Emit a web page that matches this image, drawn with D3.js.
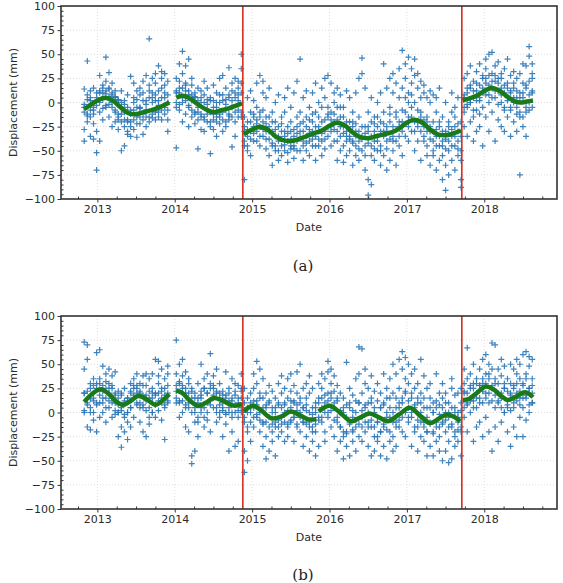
<!DOCTYPE html>
<html>
<head>
<meta charset="utf-8">
<script src="https://cdn.jsdelivr.net/npm/d3@7"></script>
<style>
body { margin: 0; background: #fff; }
text { font-family: "DejaVu Sans", sans-serif; }
</style>
</head>
<body>
<div id="chart"></div>
<script>
var width = 563;
var height = 583;

// acquisition dates (decimal years)
const dates = [
  2012.83,2012.87,2012.91,2012.95,2012.99,2013.03,2013.07,2013.11,2013.15,2013.19,2013.23,2013.27,2013.31,2013.35,
  2013.39,2013.43,2013.47,2013.51,2013.55,2013.59,2013.63,2013.67,2013.71,2013.75,2013.79,2013.83,2013.87,2013.91,
  2014.02,2014.06,2014.10,2014.14,2014.18,2014.22,2014.26,2014.30,2014.34,2014.38,2014.42,2014.46,2014.50,2014.54,
  2014.58,2014.62,2014.66,2014.70,2014.74,2014.78,2014.82,2014.86,
  2014.90,2014.94,2014.98,2015.02,2015.06,2015.10,2015.14,2015.18,2015.22,2015.26,2015.30,2015.34,2015.38,2015.42,
  2015.46,2015.50,2015.54,2015.58,2015.62,2015.66,2015.70,2015.74,2015.78,2015.82,2015.86,2015.90,2015.94,2015.98,
  2016.02,2016.06,2016.10,2016.14,2016.18,2016.22,2016.26,2016.30,2016.34,2016.38,2016.42,2016.46,2016.50,2016.54,
  2016.58,2016.62,2016.66,2016.70,2016.74,2016.78,2016.82,2016.86,2016.90,2016.94,2016.98,2017.02,2017.06,2017.10,
  2017.14,2017.18,2017.22,2017.26,2017.30,2017.34,2017.38,2017.42,2017.46,2017.50,2017.54,2017.58,2017.62,2017.66,
  2017.70,
  2017.74,2017.78,2017.82,2017.86,2017.90,2017.94,2017.98,2018.02,2018.06,2018.10,2018.14,2018.18,2018.22,2018.26,
  2018.30,2018.34,2018.38,2018.42,2018.46,2018.50,2018.54,2018.58,2018.62
];

// displacement observations (mm), one row per date, panel (a)
const obsA = [
  [-5,14,-28,-40],[43,-12,8,-20],[-35,-15,2,12],[-38,-22,-8,15],[-52,-70,-30,5],[-40,-10,10,28],[-18,3,18,10],
  [47,12,-5,22],[31,-15,6,15],[-25,0,10,20],[-8,5,-20,12],[-28,-12,3,-18],[-50,-20,-5,12],[-45,-25,-10,2],
  [-30,-18,8,-33],[-20,27,-12,-35],[-28,5,-8,20],[-36,-15,3,12],[-22,-5,15,8],[-33,10,-12,22],[-25,-8,28,2],
  [66,-15,12,18],[-16,5,25,0],[-10,20,8,30],[-15,38,12,-3],[-18,25,5,32],[-5,18,30,10],[-30,0,22,-18],
  [-47,25,10,-5],[40,15,-8,22],[53,30,5,-20],[38,12,-12,20],[45,-3,8,-25],[18,-15,2,25],[-10,10,-22,5],
  [-48,-5,15,-18],[-28,0,12,-12],[-15,8,-30,22],[-20,3,-8,15],[-53,-25,5,-10],[-12,2,18,-28],[-20,-5,10,-35],
  [25,-15,0,-22],[-30,8,-10,28],[-8,15,-25,3],[36,-18,5,-12],[-46,-5,12,20],[-20,10,-35,25],[22,-8,15,2],
  [50,35,-15,10],
  [-80,-45,-30,-15],[-50,-20,-35,5],[-55,-10,-30,12],[-40,-25,2,-15],[-18,20,-30,-5],[-45,28,-10,-25],
  [10,-35,-20,22],[-15,-48,5,-30],[-38,-25,15,-55],[-65,-30,-10,-45],[-20,-50,0,-35],[-60,-40,-25,8],
  [-55,-30,-15,-45],[-35,-50,-10,5],[-62,-40,-25,15],[-30,-48,-5,-20],[-45,10,-35,-58],[-25,-40,22,-15],
  [45,-30,-50,-10],[-40,-20,5,-60],[-35,-15,-50,12],[-55,-28,-5,-40],[-45,-20,10,-30],[-60,-35,-10,20],
  [-25,-45,0,-15],[-40,15,-20,-55],[-30,5,-48,25],[-15,-35,28,-5],[-45,-10,20,-25],[-20,10,-40,0],
  [-60,-30,15,-5],[-35,-15,8,-50],[-45,-25,-5,-62],[-55,-30,12,-40],[-20,-50,-35,5],[-65,-40,-25,-10],
  [-30,-55,10,-45],[-15,-40,25,-60],[46,30,-35,-50],[-25,15,-45,-70],[-80,-96,-30,-10],[-85,-55,-20,5],
  [-40,-60,-15,-30],[-50,-25,0,-35],[-45,-65,-20,10],[-30,40,-55,-10],[-70,-40,15,-25],[-60,-20,25,-5],
  [-35,10,-50,30],[-65,-15,20,-40],[-45,35,5,-25],[54,-20,15,-55],[-10,25,-35,40],[47,-40,10,-15],
  [-30,20,35,-5],[-50,0,28,45],[-20,15,-40,30],[-60,-10,22,5],[-35,10,-25,18],[-45,-15,5,-55],
  [-30,-65,0,12],[-50,-20,-40,8],[-70,-35,-10,5],[-60,-45,-25,15],[-80,-40,-15,-55],[-91,-65,-30,0],
  [-50,-75,-20,-40],[-60,-35,-10,10],[-45,-70,-25,-5],[-55,-30,5,-40],[-80,-88,-20,-50],
  [25,-10,5,-25],[-35,10,30,-5],[15,-20,38,0],[-40,5,22,-15],[-8,32,12,-30],[-25,18,40,2],[-45,-5,25,10],
  [20,35,-15,45],[-30,50,8,28],[52,15,-10,30],[-40,38,5,22],[42,-18,12,25],[-25,30,0,15],[10,-30,35,-8],
  [-15,20,45,5],[-35,-5,28,12],[15,-20,32,0],[-30,5,25,-12],[-75,-15,10,30],[20,-25,40,5],[-10,38,15,-35],
  [58,48,0,22],[40,10,-5,25]
];
// further observations on the same dates, panel (a)
const obsA2 = [
  [-10,-2],[-14,3],[-8,5],[-5,-12],[-3,10],[0,12],[-6,15],[9,-3],[-2,14],[8,-5],[-10,6],[-15,2],[-12,0],[-18,-2],
  [-20,-5],[-8,-25],[-18,0],[-22,-5],[-6,-15],[-18,2],[-15,-2],[-20,5],[-12,10],[-18,2],[2,-10],[-8,15],[-12,5],[8,-8],
  [0,12],[10,-2],[15,0],[2,18],[-5,12],[8,-8],[-12,6],[2,-10],[-15,5],[0,-18],[-12,-2],[-20,2],[-5,-18],[0,-15],
  [-12,8],[-18,2],[-2,-20],[-14,8],[2,-15],[-10,5],[-15,8],[20,-10],
  [-40,-25],[-28,-45],[-20,-38],[-32,-12],[-22,-40],[-15,-35],[-28,-8],[-38,-22],[-30,-15],[-42,-20],[-28,-45],
  [-35,-50],[-38,-22],[-44,-30],[-32,-52],[-38,-45],[-28,-48],[-50,-32],[-36,-22],[-30,-45],[-42,-25],[-32,-18],
  [-38,-12],[-25,-45],[-30,-38],[-32,-5],[-18,-38],[-26,-12],[-30,-18],[-12,-28],[-18,-40],[-25,-5],[-32,-15],
  [-20,-35],[-38,-28],[-42,-20],[-35,-22],[-30,-48],[-38,-25],[-32,-55],[-42,-25],[-35,-45],[-48,-22],[-40,-15],
  [-30,-50],[-35,-22],[-30,-48],[-38,-12],[-25,-40],[-28,-10],[-20,-35],[-30,-8],[-22,5],[-25,0],[-15,8],
  [-20,-30],[-8,-25],[-30,-15],[-18,-40],[-30,-20],[-38,-25],[-30,-55],[-45,-28],[-35,-20],[-30,-45],[-38,-48],
  [-32,-25],[-45,-28],[-35,-15],[-22,-48],[-35,-60],
  [8,-5],[-2,15],[0,18],[12,-8],[20,2],[5,-12],[15,28],[8,25],[18,0],[22,5],[12,28],[20,-2],[8,25],[18,-5],
  [2,15],[10,-8],[5,20],[-5,12],[5,-10],[10,-15],[-5,18],[8,-8],[12,30]
];

// displacement observations (mm), panel (b)
const obsB = [
  [73,45,20,0],[70,55,10,-15],[30,5,25,-18],[15,-8,35,0],[62,25,-20,8],[65,30,10,-5],[48,15,0,22],
  [40,25,5,-10],[12,30,45,20],[-5,25,15,38],[10,42,20,-2],[-25,0,22,8],[-36,-15,5,18],[-20,-5,10,25],
  [-28,0,15,-10],[20,-15,30,5],[15,-5,28,35],[25,8,40,20],[10,30,-10,22],[-20,18,38,5],[-25,12,28,40],
  [5,22,-12,35],[15,40,0,25],[55,20,8,-5],[53,30,12,38],[25,-8,15,45],[-28,18,35,5],[40,20,48,10],
  [75,40,22,10],[30,50,12,-5],[55,25,38,0],[20,-15,42,8],[-20,10,30,35],[-53,-45,15,25],[-40,5,20,-10],
  [30,-5,10,-25],[50,15,0,22],[-15,25,35,5],[10,40,-8,20],[61,30,12,-20],[25,5,38,15],[0,20,-10,45],
  [15,-5,30,8],[-25,10,22,2],[42,0,18,-12],[5,-40,25,12],[-20,15,35,0],[-35,8,22,30],[10,-30,28,-5],
  [40,25,5,15],
  [-62,-40,-10,25],[-50,5,15,-20],[-30,20,10,0],[25,-15,40,5],[53,30,-5,12],[45,20,0,-20],
  [35,-10,15,-35],[-48,-25,5,20],[-40,-15,10,28],[-30,0,22,-20],[-45,-10,15,5],[-25,8,30,-15],
  [-5,20,-20,38],[10,-30,25,0],[-12,15,35,-25],[5,40,-10,22],[-30,12,28,-5],[20,-15,8,42],
  [50,-20,10,0],[-35,5,25,-10],[15,-25,30,2],[-40,-10,20,38],[-15,5,-30,25],[-45,-20,10,0],
  [-35,15,-5,30],[-10,25,40,5],[-20,35,10,-30],[53,20,0,42],[45,15,-15,30],[-25,5,22,38],
  [-40,-10,12,28],[-15,0,20,-30],[-48,-25,5,15],[52,-20,-35,8],[-45,-10,10,25],[-30,-5,18,-20],
  [-40,0,35,-15],[68,40,10,-25],[66,-5,20,-30],[30,-20,5,45],[-35,10,25,-10],[-45,-15,15,38],
  [-25,0,22,-40],[-10,30,-30,12],[-45,5,20,-20],[40,-15,10,-35],[-48,25,-5,15],[-20,35,5,-30],
  [50,0,20,-40],[-35,15,40,-10],[55,25,-15,5],[63,45,10,-20],[57,-25,20,35],[-10,30,50,5],
  [-35,15,40,-5],[25,-20,45,8],[-40,10,30,-15],[55,0,-25,20],[-30,15,38,-10],[-20,5,25,-45],
  [-35,-10,15,30],[-45,-20,10,0],[40,-30,5,-15],[-25,20,-40,8],[-50,-10,30,15],[-40,0,20,-20],
  [-52,-30,10,-5],[35,-15,25,-48],[-25,5,18,-35],[-10,20,-30,0],[-45,-20,10,25],
  [20,45,-5,30],[67,10,35,-20],[25,0,40,15],[-30,12,30,50],[5,35,20,-15],[45,15,-10,28],[-25,30,55,10],
  [20,40,-5,60],[35,10,50,-20],[72,45,25,-40],[70,30,5,-15],[-30,20,45,10],[15,38,-10,55],[0,25,48,30],
  [-20,12,35,5],[30,-35,50,20],[45,10,-15,25],[-25,20,40,55],[15,35,-5,50],[60,28,5,-25],[63,40,15,-8],
  [58,25,48,0],[35,55,10,20]
];
// further observations on the same dates, panel (b)
const obsB2 = [
  [20,2],[22,8],[14,0],[28,12],[30,10],[18,35],[28,10],[15,32],[25,5],[10,28],[18,2],[15,0],[2,20],[12,-2],
  [15,0],[5,22],[18,25],[10,28],[20,5],[28,8],[18,2],[15,-5],[20,0],[8,18],[2,20],[22,10],[25,8],[12,28],
  [28,15],[32,10],[12,28],[25,5],[20,5],[22,0],[0,15],[15,-10],[18,5],[25,-5],[20,0],[8,25],[18,28],[22,5],
  [20,0],[5,18],[15,-2],[20,0],[12,-5],[18,0],[15,2],[22,0],
  [-5,10],[-15,0],[5,-10],[12,-5],[8,-2],[15,-8],[5,-12],[-10,8],[-5,12],[-12,5],[0,-15],[-8,10],[5,-12],
  [-10,8],[2,-15],[-8,12],[10,-5],[-12,2],[-5,15],[-10,5],[8,-12],[-15,0],[-20,-2],[-12,5],[-8,10],[15,-5],
  [0,18],[12,-5],[20,2],[10,-8],[-5,15],[-15,2],[-20,0],[-5,-22],[-12,5],[-18,2],[-8,12],[10,-12],[2,-15],
  [-10,8],[0,-15],[-8,10],[-15,5],[-10,-25],[5,-20],[-12,8],[-18,0],[-5,15],[-10,-25],[5,-15],[10,-8],
  [15,-5],[0,22],[12,-5],[20,0],[5,-15],[15,-8],[-10,10],[-15,5],[-20,-5],[-12,5],[-22,0],[-10,12],[-15,-2],
  [5,-12],[-8,10],[0,-15],[-12,5],[-20,0],[-5,-18],[-15,2],
  [5,22],[20,8],[12,28],[25,5],[15,30],[28,10],[22,35],[30,15],[20,40],[28,12],[35,18],[12,30],[20,5],[25,0],
  [8,22],[18,2],[28,5],[12,30],[22,8],[30,15],[18,35],[25,8],[10,28]
];

// fitted seasonal model, [year, mm] per segment
const fitA = [
  [[2012.83,-7],[2012.9,-3],[2013.0,2],[2013.1,5],[2013.2,2],[2013.3,-5],[2013.4,-11],[2013.5,-12],[2013.6,-10],
   [2013.7,-8],[2013.8,-5],[2013.93,0]],
  [[2014.02,5],[2014.1,7],[2014.2,4],[2014.3,-2],[2014.4,-7],[2014.5,-10],[2014.6,-8],[2014.7,-6],[2014.8,-3],
   [2014.87,-1]],
  [[2014.89,-33],[2015.0,-28],[2015.1,-25],[2015.2,-28],[2015.3,-35],[2015.4,-39],[2015.5,-40],[2015.6,-38],
   [2015.7,-35],[2015.8,-32],[2015.9,-29],[2016.0,-24],[2016.1,-21],[2016.2,-24],[2016.3,-31],[2016.4,-36],
   [2016.5,-37],[2016.6,-35],[2016.7,-33],[2016.8,-31],[2016.9,-27],[2017.0,-21],[2017.1,-18],[2017.2,-21],
   [2017.3,-28],[2017.4,-33],[2017.5,-34],[2017.6,-32],[2017.7,-29]],
  [[2017.72,2],[2017.8,4],[2017.9,7],[2018.0,12],[2018.1,15],[2018.2,12],[2018.3,6],[2018.4,1],[2018.47,0],
   [2018.55,1],[2018.63,2]]
];
const fitB = [
  [[2012.83,11],[2012.9,17],[2013.0,23],[2013.05,24],[2013.15,19],[2013.25,11],[2013.33,8],[2013.43,12],
   [2013.53,17],[2013.63,14],[2013.75,8],[2013.85,13],[2013.93,19]],
  [[2014.02,23],[2014.1,20],[2014.2,12],[2014.3,7],[2014.4,10],[2014.5,15],[2014.6,13],[2014.7,9],[2014.78,7],
   [2014.87,9]],
  [[2014.89,1],[2014.95,5],[2015.02,7],[2015.12,2],[2015.25,-6],[2015.38,-4],[2015.5,1],[2015.62,-3],
   [2015.72,-7],[2015.83,-7]],
  [[2015.86,1],[2016.0,7],[2016.12,1],[2016.28,-9],[2016.4,-5],[2016.52,-1],[2016.64,-5],[2016.76,-9],
   [2016.9,-2],[2017.04,5],[2017.18,-4],[2017.3,-11],[2017.42,-6],[2017.52,-2],[2017.62,-5],[2017.69,-9]],
  [[2017.72,13],[2017.8,14],[2017.9,20],[2018.02,27],[2018.12,24],[2018.22,17],[2018.3,13],[2018.4,16],
   [2018.53,21],[2018.63,16]]
];

const breaks = [2014.88, 2017.71];
const yearTicks = [2013, 2014, 2015, 2016, 2017, 2018];
const yTicks = [-100, -75, -50, -25, 0, 25, 50, 75, 100];

const left = 61, right = 557;

var svg = d3.select("#chart").append("svg")
  .attr("width", width)
  .attr("height", height);

var x = d3.scaleLinear().domain([2012.53, 2018.94]).range([left, right]);

const panels = [
  {top: 6, bottom: 199, obs: [obsA, obsA2], fit: fitA, tag: "(a)", tagY: 271, dateY: 231},
  {top: 316, bottom: 509, obs: [obsB, obsB2], fit: fitB, tag: "(b)", tagY: 580, dateY: 541}
];

panels.forEach((p, k) => {
  var y = d3.scaleLinear().domain([-100, 100]).range([p.bottom, p.top]);
  var g = svg.append("g");

  g.append("clipPath").attr("id", "clip" + k)
    .append("rect")
    .attr("x", left).attr("y", p.top)
    .attr("width", right - left).attr("height", p.bottom - p.top);

  // grid
  g.selectAll(".gx").data(yearTicks).enter().append("line")
    .attr("x1", d => x(d)).attr("x2", d => x(d))
    .attr("y1", p.top).attr("y2", p.bottom)
    .attr("stroke", "#d4d4d4").attr("stroke-width", 0.8).attr("stroke-dasharray", "1,2");
  g.selectAll(".gy").data(yTicks.slice(1, -1)).enter().append("line")
    .attr("x1", left).attr("x2", right)
    .attr("y1", d => y(d)).attr("y2", d => y(d))
    .attr("stroke", "#d4d4d4").attr("stroke-width", 0.8).attr("stroke-dasharray", "1,2");

  var plot = g.append("g").attr("clip-path", "url(#clip" + k + ")");

  // observations
  var pts = [];
  p.obs.forEach(rows => dates.forEach((d, i) => rows[i].forEach(v => pts.push([d, v]))));
  plot.selectAll(".pt").data(pts).enter().append("path")
    .attr("transform", d => "translate(" + x(d[0]) + "," + y(d[1]) + ")")
    .attr("d", "M-3,0H3M0,-3V3")
    .attr("stroke", "#2a76b6")
    .attr("stroke-opacity", 0.9)
    .attr("stroke-width", 1.2);

  // fitted model
  var line = d3.line().x(d => x(d[0])).y(d => y(d[1])).curve(d3.curveCatmullRom);
  plot.selectAll(".fit").data(p.fit).enter().append("path")
    .attr("d", line)
    .attr("fill", "none")
    .attr("stroke", "#1a7a1a")
    .attr("stroke-width", 4.5)
    .attr("stroke-linecap", "butt");

  // breaks
  plot.selectAll(".brk").data(breaks).enter().append("line")
    .attr("x1", d => x(d)).attr("x2", d => x(d))
    .attr("y1", p.top).attr("y2", p.bottom)
    .attr("stroke", "#d62d20").attr("stroke-width", 1.6);

  // axes
  g.append("g").attr("transform", "translate(0," + p.bottom + ")")
    .call(d3.axisBottom(x).tickValues(yearTicks).tickFormat(d3.format("d")).tickSize(3.5).tickPadding(3));
  var xMinor = [];
  for (var yr = 2012.75; yr < 2018.94; yr += 0.25) if (Math.abs(yr - Math.round(yr)) > 0.01) xMinor.push(yr);
  g.append("g").attr("transform", "translate(0," + p.bottom + ")")
    .call(d3.axisBottom(x).tickValues(xMinor).tickFormat("").tickSize(-2.5));

  g.append("g").attr("transform", "translate(" + left + ",0)")
    .call(d3.axisLeft(y).tickValues(yTicks).tickFormat(d => d < 0 ? "\u2212" + Math.abs(d) : d).tickSize(3.5).tickPadding(2.5));
  g.append("g").attr("transform", "translate(" + left + ",0)")
    .call(d3.axisLeft(y).tickValues(d3.range(-95, 100, 5).filter(v => v % 25 !== 0)).tickFormat("").tickSize(-2.5));

  g.selectAll(".domain").remove();
  g.selectAll(".tick line").attr("stroke", "#333").attr("stroke-width", 1);
  g.selectAll(".tick text").attr("font-size", 11).attr("fill", "#2b2b2b").attr("font-family", "DejaVu Sans");

  // frame
  g.append("rect")
    .attr("x", left).attr("y", p.top)
    .attr("width", right - left).attr("height", p.bottom - p.top)
    .attr("fill", "none").attr("stroke", "#333").attr("stroke-width", 1.6);

  g.append("text")
    .attr("x", 309).attr("y", p.dateY)
    .attr("text-anchor", "middle").attr("font-size", 11).attr("fill", "#2b2b2b")
    .text("Date");
  g.append("text")
    .attr("transform", "translate(17," + (p.top + p.bottom) / 2 + ") rotate(-90)")
    .attr("text-anchor", "middle").attr("font-size", 11).attr("fill", "#2b2b2b")
    .text("Displacement (mm)");
  g.append("text")
    .attr("x", 303).attr("y", p.tagY)
    .attr("text-anchor", "middle").attr("font-size", 15)
    .style("font-family", "'DejaVu Serif', serif").attr("fill", "#222")
    .text(p.tag);
});
</script>
</body>
</html>
